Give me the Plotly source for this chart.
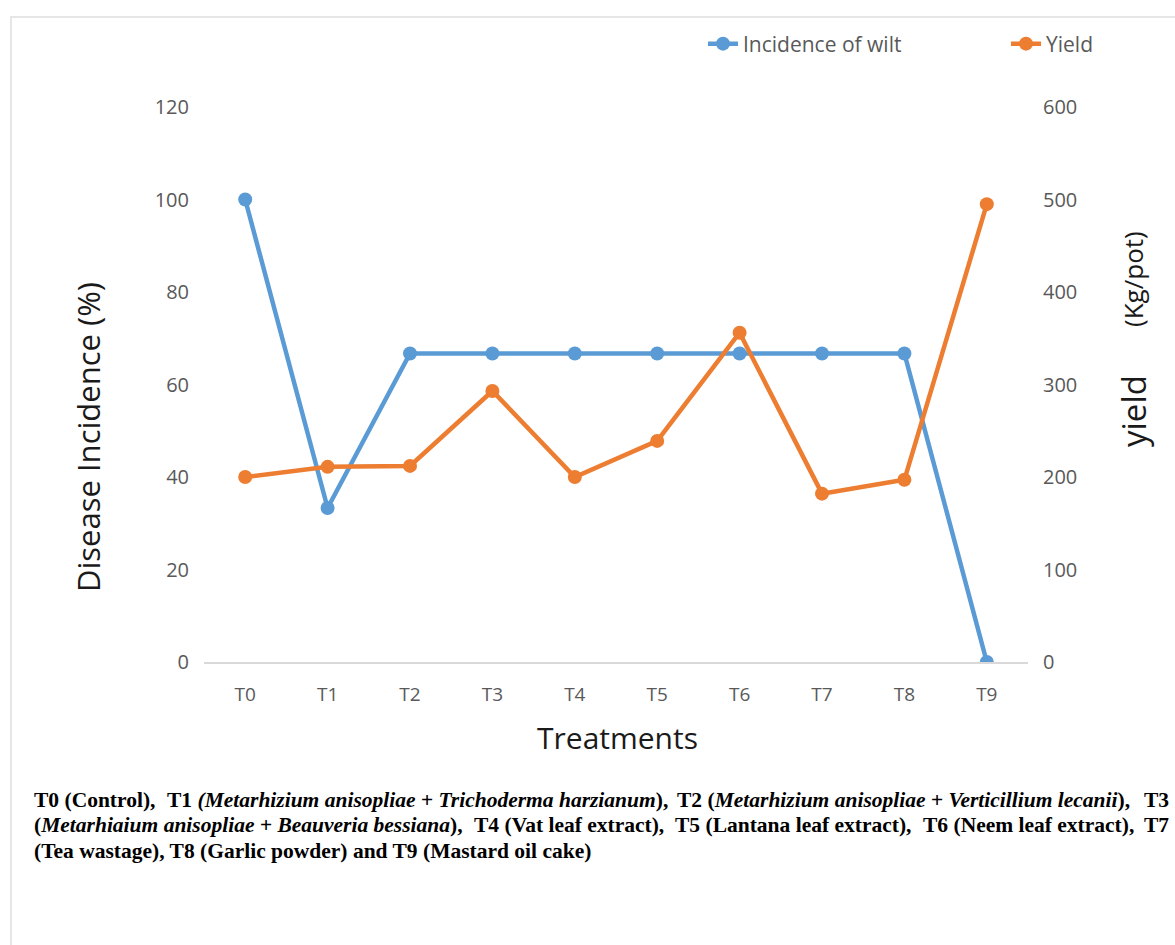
import plotly.graph_objects as go

# Treatments and measured values
treatments = ["T0", "T1", "T2", "T3", "T4", "T5", "T6", "T7", "T8", "T9"]
incidence_of_wilt = [100, 33.3, 66.7, 66.7, 66.7, 66.7, 66.7, 66.7, 66.7, 0]
yield_kg_pot = [200, 211, 212, 293, 200, 239, 356, 182, 197, 495]

left_ticks = [0, 20, 40, 60, 80, 100, 120]
right_ticks = [0, 100, 200, 300, 400, 500, 600]

W, H = 1175, 945
L, R, T, B = 204, 1028, 107, 662  # plot area in pixels


def px(x):
    return (x - L) / (R - L)


def py(y):
    return (B - y) / (B - T)


BLUE = "#5B9BD5"
ORANGE = "#ED7D31"
TICK = "#595959"
TITLE = "#1a1a1a"
FONT = "Open Sans"

fig = go.Figure()
fig.add_trace(go.Scatter(
    x=treatments, y=incidence_of_wilt, name="Incidence of wilt",
    mode="lines+markers", line=dict(color=BLUE, width=4.5),
    marker=dict(color=BLUE, size=14), yaxis="y", legend="legend"))
fig.add_trace(go.Scatter(
    x=treatments, y=yield_kg_pot, name="Yield",
    mode="lines+markers", line=dict(color=ORANGE, width=4.5),
    marker=dict(color=ORANGE, size=14), yaxis="y2", legend="legend2"))

legend_style = dict(orientation="h", xanchor="left", yanchor="middle",
                    font=dict(family=FONT, size=21, color=TICK),
                    bgcolor="rgba(0,0,0,0)", itemwidth=30)

fig.update_layout(
    width=W, height=H,
    margin=dict(l=L, r=W - R, t=T, b=H - B),
    paper_bgcolor="white", plot_bgcolor="white",
    font=dict(family=FONT, color=TICK, size=20),
    showlegend=True,
    legend=dict(x=px(703), y=py(44), **legend_style),
    legend2=dict(x=px(1006), y=py(44), **legend_style),
    xaxis=dict(type="category", range=[-0.5, 9.5], showgrid=False,
               showline=True, linecolor="#d9d9d9", linewidth=2,
               ticks="", ticklabelstandoff=14,
               tickfont=dict(family=FONT, size=19, color=TICK)),
    yaxis=dict(range=[0, 120], tickvals=left_ticks, showgrid=False,
               zeroline=False, showline=False, ticks="",
               ticklabelstandoff=14,
               tickfont=dict(family=FONT, size=20, color=TICK)),
    yaxis2=dict(range=[0, 600], tickvals=right_ticks, overlaying="y",
                side="right", showgrid=False, zeroline=False,
                showline=False, ticks="", ticklabelstandoff=14,
                tickfont=dict(family=FONT, size=20, color=TICK)),
)

annotations = [
    dict(text="Disease Incidence (%)", x=px(88), y=py(437), textangle=-90,
         font=dict(family=FONT, size=31, color=TITLE)),
    dict(text="Treatments", x=px(617), y=py(737),
         font=dict(family=FONT, size=30, color=TITLE)),
    dict(text="yield", x=px(1133), y=py(411), textangle=-90,
         font=dict(family=FONT, size=33, color=TITLE)),
    dict(text="(Kg/pot)", x=px(1133), y=py(279), textangle=-90,
         font=dict(family=FONT, size=26, color=TITLE)),
]
for a in annotations:
    a.update(xref="paper", yref="paper", showarrow=False,
             xanchor="center", yanchor="middle")

# caption, set line by line in segments so each full line spans the width
caption_rows = [
    [(32, "T0 (Control),"),
     (165, "T1 <i>(Metarhizium anisopliae + Trichoderma harzianum</i>),"),
     (675, "T2 (<i>Metarhizium anisopliae + Verticillium lecanii</i>),"),
     (1142, "T3")],
    [(32, "(<i>Metarhiaium anisopliae + Beauveria bessiana</i>),"),
     (472, "T4 (Vat leaf extract),"),
     (673, "T5 (Lantana leaf extract),"),
     (921, "T6 (Neem leaf extract),"),
     (1142, "T7")],
    [(32, "(Tea wastage), T8 (Garlic powder) and T9 (Mastard oil cake)")],
]
for i, row in enumerate(caption_rows):
    for x0, seg in row:
        annotations.append(dict(
            text="<b>" + seg + "</b>", x=px(x0), y=py(800 + i * 25.5),
            xref="paper", yref="paper", showarrow=False,
            xanchor="left", yanchor="middle",
            font=dict(family="Liberation Serif", size=21.5, color="black")))

fig.update_layout(annotations=annotations)

# light frame around the figure
fig.add_shape(type="rect", xref="paper", yref="paper",
              x0=px(11), y0=py(960), x1=px(1200), y1=py(17),
              line=dict(color="#e6e6e6", width=2), fillcolor="rgba(0,0,0,0)")

fig.write_html("out.html")
